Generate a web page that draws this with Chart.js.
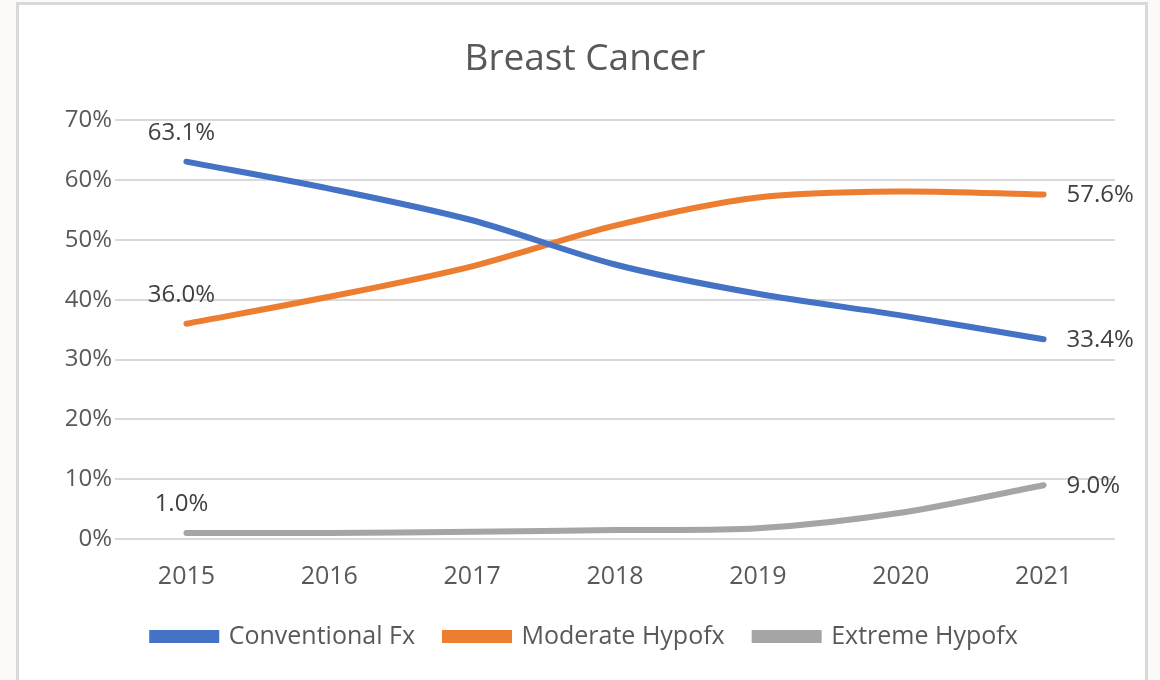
<!DOCTYPE html>
<html>
<head>
<meta charset="utf-8">
<script src="https://cdn.jsdelivr.net/npm/chart.js@4.4.0/dist/chart.umd.min.js"></script>
<style>
  html, body { margin: 0; padding: 0; background: #fcfbf9; overflow: hidden; }
  #frame {
    position: absolute; left: 16px; top: 2px; width: 1126px; height: 700px;
    background: #fff; border: 3px solid #d9d9d9; border-bottom: none;
  }
  #myChart { position: absolute; left: 0; top: 0; }
</style>
</head>
<body>
<div id="frame"></div>
<canvas id="myChart" width="1160" height="680"></canvas>
<script>
// data (percent)
var years = ['2015', '2016', '2017', '2018', '2019', '2020', '2021'];
var conventionalFx = [63.1, 58.6, 53.3, 45.9, 41.0, 37.4, 33.4];
var moderateHypofx = [36.0, 40.5, 45.6, 52.4, 57.1, 58.1, 57.6];
var extremeHypofx = [1.0, 1.0, 1.2, 1.5, 1.8, 4.4, 9.0];
var yTicks = [0, 10, 20, 30, 40, 50, 60, 70];

var fontFam = '"Open Sans", "Noto Sans", sans-serif';

/* labels on first and last points ------------------------------*/
var endLabels = {
  id: 'endLabels',
  afterDatasetsDraw: function(chart) {
    var ctx = chart.ctx;
    ctx.save();
    ctx.font = '24px ' + fontFam;
    ctx.fillStyle = '#404040';
    ctx.textBaseline = 'middle';
    chart.data.datasets.forEach(function(ds, i) {
      var meta = chart.getDatasetMeta(i);
      var first = meta.data[0];
      var last = meta.data[meta.data.length - 1];
      ctx.textAlign = 'center';
      ctx.fillText(ds.data[0].toFixed(1) + '%', first.x - 5, first.y - 29);
      ctx.textAlign = 'left';
      ctx.fillText(ds.data[ds.data.length - 1].toFixed(1) + '%', last.x + 23, last.y + 1);
    });
    ctx.restore();
  }
};

function line(label, data, color) {
  return {
    label: label,
    data: data,
    borderColor: color,
    backgroundColor: color,
    borderWidth: 6,
    borderCapStyle: 'round',
    pointRadius: 0,
    tension: 0.3,
    fill: false
  };
}

var ctx = document.getElementById('myChart').getContext('2d');
var myChart = new Chart(ctx, {
  type: 'line',
  data: {
    labels: years,
    datasets: [
      line('Conventional Fx', conventionalFx, '#4472C4'),
      line('Moderate Hypofx', moderateHypofx, '#ED7D31'),
      line('Extreme Hypofx', extremeHypofx, '#A5A5A5')
    ]
  },
  plugins: [endLabels],
  options: {
    responsive: false,
    animation: false,
    layout: { padding: { left: 55, right: 45, top: 0, bottom: 21 } },
    plugins: {
      tooltip: { enabled: false },
      title: {
        display: true,
        text: 'Breast Cancer',
        color: '#595959',
        font: { family: fontFam, size: 37, weight: 'normal' },
        padding: { top: 37, bottom: 39 }
      },
      legend: {
        position: 'bottom',
        labels: {
          color: '#595959',
          font: { family: fontFam, size: 25 },
          boxWidth: 64,
          boxHeight: 7,
          padding: 30
        }
      }
    },
    scales: {
      x: {
        offset: true,
        grid: { display: false },
        border: { display: false },
        ticks: { color: '#595959', font: { family: fontFam, size: 25 }, padding: 15 },
        afterFit: function(s) { s.height = 55; }
      },
      y: {
        min: yTicks[0],
        max: yTicks[yTicks.length - 1],
        grid: { color: '#d9d9d9', lineWidth: 2, drawTicks: false },
        border: { display: false },
        ticks: {
          stepSize: 10,
          color: '#595959',
          font: { family: fontFam, size: 24 },
          padding: 3,
          callback: function(v) { return v + '%'; }
        },
        afterFit: function(s) { s.width = 60; }
      }
    }
  }
});
</script>
</body>
</html>
